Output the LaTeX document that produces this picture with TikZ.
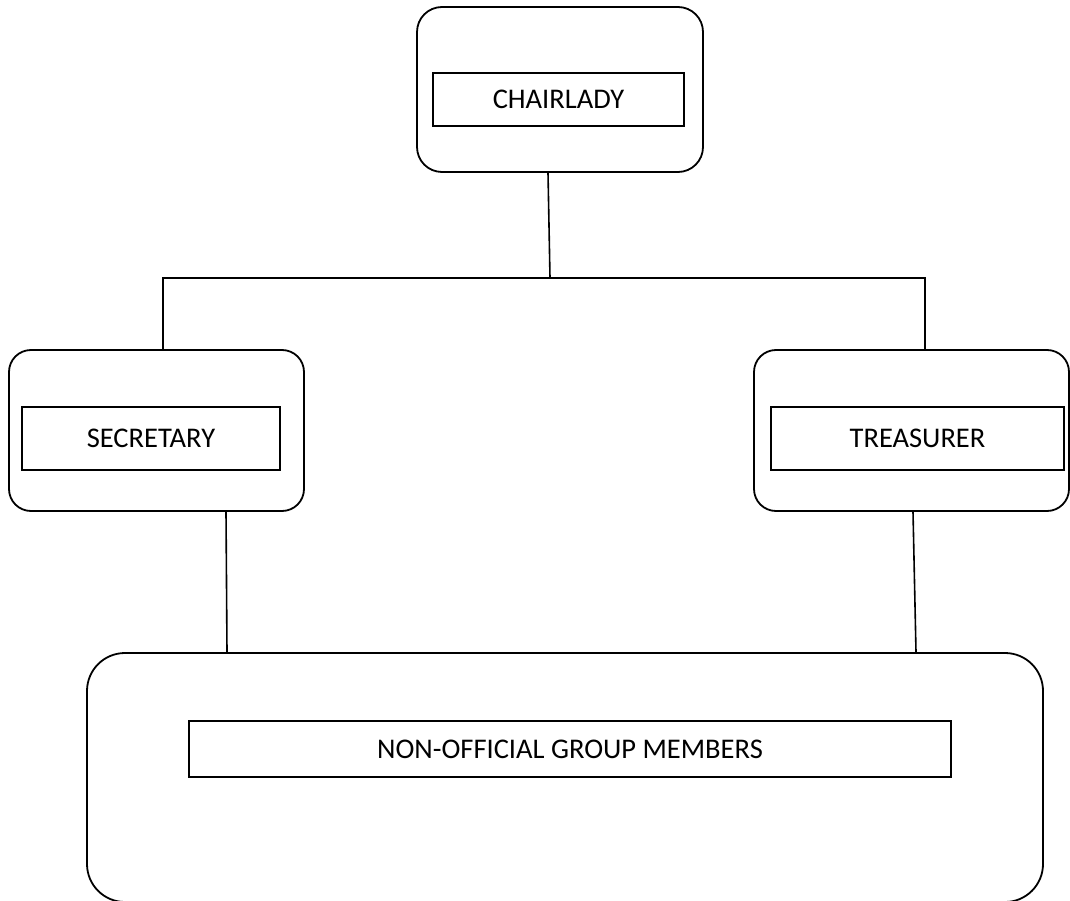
\documentclass[tikz,border=0pt]{standalone}
\usepackage{fontspec}
\setmainfont{Carlito}
\begin{document}
\begin{tikzpicture}[x=1pt,y=-1pt,
  outerbox/.style={draw, line width=1.8pt, rounded corners=#1, inner sep=0pt},
  innerbox/.style={draw, line width=1.8pt, inner sep=0pt, font=\fontsize{28.5}{34}\selectfont},
  link/.style={line width=1.6pt}]
\useasboundingbox (0,0) rectangle (1070,901);
% top
\node[outerbox=25pt, minimum width=286pt, minimum height=165pt] (chair) at (560,89.5) {};
\node[innerbox, minimum width=251pt, minimum height=53pt] (chairin) at (558.5,99.5) {CHAIRLADY};
% middle
\node[outerbox=22pt, minimum width=295pt, minimum height=161pt] (sec) at (156.5,430.5) {};
\node[innerbox, minimum width=258pt, minimum height=63pt] (secin) at (151,438.5) {SECRETARY};
\node[outerbox=22pt, minimum width=315pt, minimum height=161pt] (tre) at (911.5,430.5) {};
\node[innerbox, minimum width=293pt, minimum height=63pt] (trein) at (917.5,438.5) {TREASURER};
% bottom
\node[outerbox=38pt, minimum width=956pt, minimum height=249pt] (mem) at (565,777.5) {};
\node[innerbox, minimum width=762pt, minimum height=56pt] (memin) at (570,749) {NON-OFFICIAL GROUP MEMBERS};
% connectors
\coordinate (j) at (550,278);
\draw[link] ([xshift=-12pt]chair.south) -- (j);
\draw[link] ([xshift=6.5pt]sec.north) |- (j) -| ([xshift=13.5pt]tre.north);
\draw[link] ([xshift=69.5pt]sec.south) -- ([xshift=-338pt]mem.north);
\draw[link] ([xshift=1.5pt]tre.south) -- ([xshift=351pt]mem.north);
\end{tikzpicture}
\end{document}
